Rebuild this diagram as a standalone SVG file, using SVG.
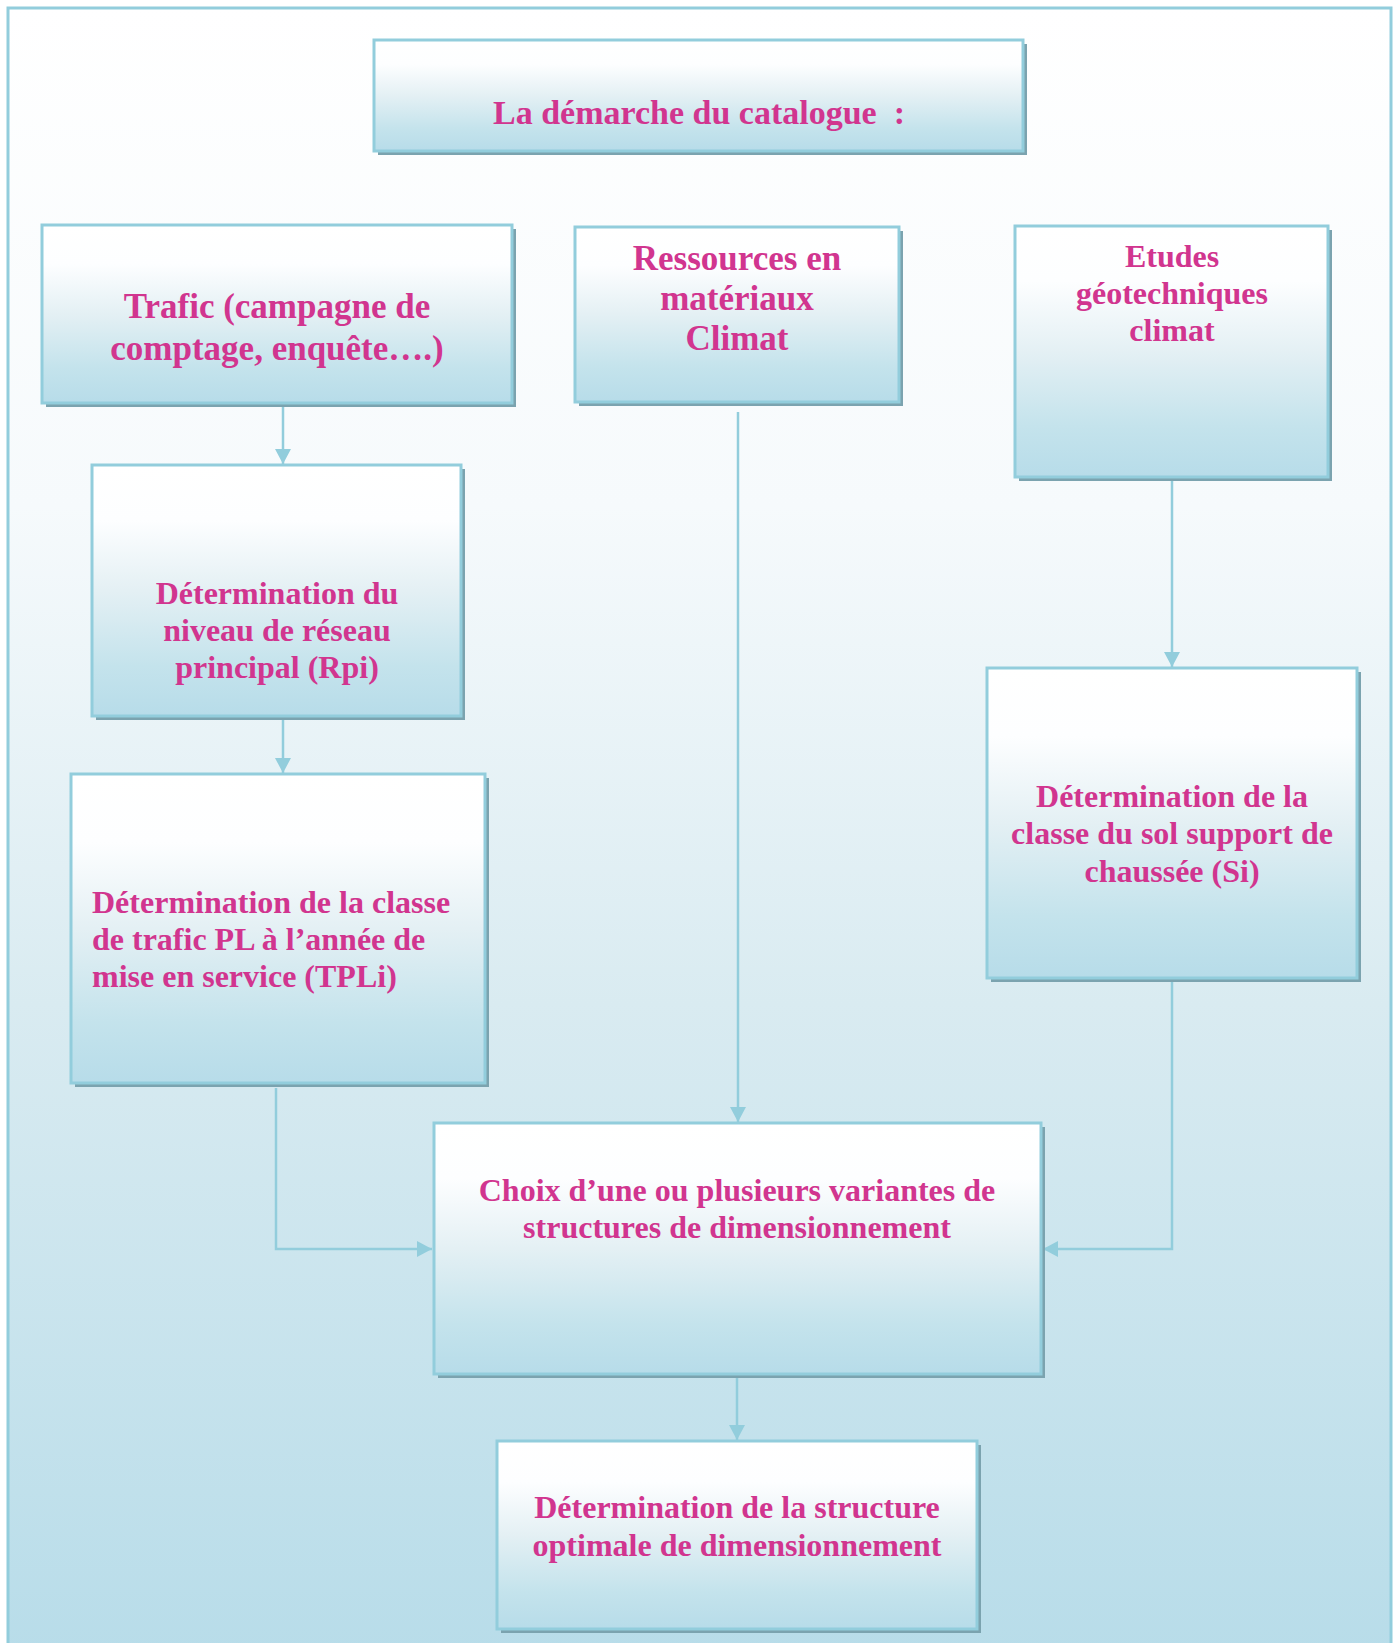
<svg xmlns="http://www.w3.org/2000/svg" width="1397" height="1643" viewBox="0 0 1397 1643">
<defs>
<linearGradient id="bg" x1="0" y1="0" x2="0" y2="1">
<stop offset="0" stop-color="#ffffff"/>
<stop offset="0.3" stop-color="#f6fafc"/>
<stop offset="0.6" stop-color="#d9ebf1"/>
<stop offset="1" stop-color="#b7dce9"/>
</linearGradient>
<linearGradient id="box" x1="0" y1="0" x2="0" y2="1">
<stop offset="0" stop-color="#ffffff"/>
<stop offset="0.22" stop-color="#fdfeff"/>
<stop offset="0.5" stop-color="#e4f0f4"/>
<stop offset="0.8" stop-color="#c4e3ec"/>
<stop offset="1" stop-color="#b7dce9"/>
</linearGradient>
<marker id="arr" markerWidth="16" markerHeight="16" refX="15" refY="8" orient="auto" markerUnits="userSpaceOnUse">
<path d="M0,0 L15,8 L0,16 Z" fill="#92cddc"/>
</marker>
</defs>
<style>
.sh{fill:#7ba3af}
.bx{fill:url(#box);stroke:#92cddc;stroke-width:3}
.t{font-family:"Liberation Serif","Times New Roman",serif;font-weight:bold;font-size:32px;fill:#d1358f}
.big{font-size:35px}
.ttl{font-size:34px}
.c{text-anchor:middle}
.cn{fill:none;stroke:#92cddc;stroke-width:2.5}
</style>
<rect x="8" y="8" width="1383" height="1660" fill="url(#bg)" stroke="#92cddc" stroke-width="3"/>

<g id="connectors">
<line class="cn" x1="283" y1="406" x2="283" y2="464" marker-end="url(#arr)"/>
<line class="cn" x1="283" y1="720" x2="283" y2="773" marker-end="url(#arr)"/>
<line class="cn" x1="738" y1="412" x2="738" y2="1122" marker-end="url(#arr)"/>
<line class="cn" x1="1172" y1="481" x2="1172" y2="667" marker-end="url(#arr)"/>
<polyline class="cn" points="276,1088 276,1249 432,1249" marker-end="url(#arr)"/>
<polyline class="cn" points="1172,982 1172,1249 1043,1249" marker-end="url(#arr)"/>
<line class="cn" x1="737" y1="1378" x2="737" y2="1440" marker-end="url(#arr)"/>
</g>

<g id="title">
<rect class="sh" x="378" y="44" width="649" height="111"/>
<rect class="bx" x="374" y="40" width="649" height="111"/>
<text class="t c ttl" x="699" y="124">La démarche du catalogue&#160;&#160;:</text>
</g>

<g id="trafic">
<rect class="sh" x="46" y="229" width="470" height="178"/>
<rect class="bx" x="42" y="225" width="470" height="178"/>
<text class="t c big" x="277" y="318">Trafic (campagne de</text>
<text class="t c big" x="277" y="360">comptage, enquête….)</text>
</g>

<g id="ressources">
<rect class="sh" x="579" y="231" width="324" height="175"/>
<rect class="bx" x="575" y="227" width="324" height="175"/>
<text class="t c big" x="737" y="270">Ressources en</text>
<text class="t c big" x="737" y="310">matériaux</text>
<text class="t c big" x="737" y="350">Climat</text>
</g>

<g id="etudes">
<rect class="sh" x="1019" y="230" width="313" height="251"/>
<rect class="bx" x="1015" y="226" width="313" height="251"/>
<text class="t c" x="1172" y="267">Etudes</text>
<text class="t c" x="1172" y="304">géotechniques</text>
<text class="t c" x="1172" y="341">climat</text>
</g>

<g id="reseau">
<rect class="sh" x="96" y="469" width="369" height="251"/>
<rect class="bx" x="92" y="465" width="369" height="251"/>
<text class="t c" x="277" y="604">Détermination du</text>
<text class="t c" x="277" y="641">niveau de réseau</text>
<text class="t c" x="277" y="678">principal (Rpi)</text>
</g>

<g id="tpl">
<rect class="sh" x="75" y="778" width="414" height="309"/>
<rect class="bx" x="71" y="774" width="414" height="309"/>
<text class="t" x="92" y="913">Détermination de la classe</text>
<text class="t" x="92" y="950">de trafic PL à l’année de</text>
<text class="t" x="92" y="987">mise en service (TPLi)</text>
</g>

<g id="sol">
<rect class="sh" x="991" y="672" width="370" height="310"/>
<rect class="bx" x="987" y="668" width="370" height="310"/>
<text class="t c" x="1172" y="807">Détermination de la</text>
<text class="t c" x="1172" y="844">classe du sol support de</text>
<text class="t c" x="1172" y="882">chaussée (Si)</text>
</g>

<g id="choix">
<rect class="sh" x="438" y="1127" width="607" height="251"/>
<rect class="bx" x="434" y="1123" width="607" height="251"/>
<text class="t c" x="737" y="1201">Choix d’une ou plusieurs variantes de</text>
<text class="t c" x="737" y="1238">structures de dimensionnement</text>
</g>

<g id="optimale">
<rect class="sh" x="501" y="1445" width="480" height="188"/>
<rect class="bx" x="497" y="1441" width="480" height="188"/>
<text class="t c" x="737" y="1518">Détermination de la structure</text>
<text class="t c" x="737" y="1556">optimale de dimensionnement</text>
</g>
</svg>
